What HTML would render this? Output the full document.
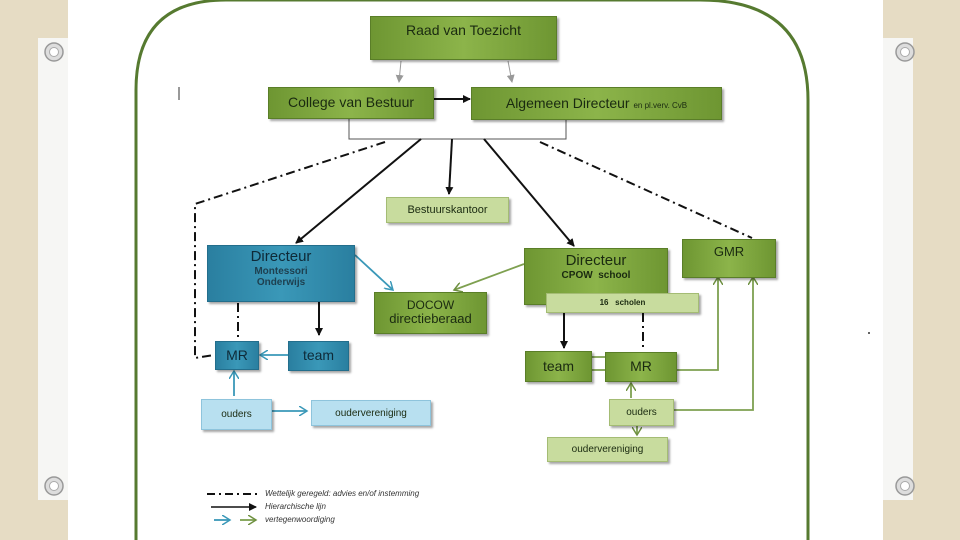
<!DOCTYPE html>
<html><head><meta charset="utf-8"><style>
body{margin:0;width:960px;height:540px;overflow:hidden;background:#e6dcc4;font-family:"Liberation Sans",sans-serif;position:relative}
.b{position:absolute;display:flex;align-items:center;justify-content:center;flex-direction:column;box-shadow:2px 2px 2px rgba(0,0,0,.35);color:#1a2a10;text-align:center;line-height:1.1}
.g{background:linear-gradient(90deg,#6e9632,#8cb44a 50%,#6e9632);border:1px solid #5a7e28}
.lg{background:#c8dc9e;border:1px solid #a4bc74}
.t{background:linear-gradient(90deg,#2a7fa0,#3a98b8 50%,#2a7fa0);border:1px solid #236e8c;color:#0e2a38}
.lb{background:#b8e0f0;border:1px solid #8ec4dc}
</style></head><body>
<div style="position:absolute;left:68px;top:0;width:815px;height:540px;background:#fff"></div>
<div style="position:absolute;left:38px;top:38px;width:30px;height:462px;background:#f6f6f4"></div>
<div style="position:absolute;left:883px;top:38px;width:30px;height:462px;background:#f6f6f4"></div>
<svg width="960" height="540" style="position:absolute;left:0;top:0">
<defs>
<marker id="k" markerWidth="8" markerHeight="8" refX="7" refY="4" orient="auto" markerUnits="userSpaceOnUse"><path d="M0,0L8,4L0,8z" fill="#111"/></marker>
<marker id="gr" markerWidth="8" markerHeight="8" refX="7" refY="4" orient="auto" markerUnits="userSpaceOnUse"><path d="M0,0L8,4L0,8z" fill="#999"/></marker>
<marker id="bl" markerWidth="10" markerHeight="10" refX="8" refY="5" orient="auto" markerUnits="userSpaceOnUse"><path d="M0,0L8,5L0,10" fill="none" stroke="#3a98b8" stroke-width="1.5"/></marker>
<marker id="gn" markerWidth="10" markerHeight="10" refX="8" refY="5" orient="auto" markerUnits="userSpaceOnUse"><path d="M0,0L8,5L0,10" fill="none" stroke="#6e9040" stroke-width="1.5"/></marker>
</defs>
<g fill="#ddd" stroke="#999" stroke-width="1.5"><circle cx="54" cy="52" r="9"/><circle cx="54" cy="486" r="9"/><circle cx="905" cy="52" r="9"/><circle cx="905" cy="486" r="9"/></g>
<g fill="#fff" stroke="#aaa"><circle cx="54" cy="52" r="4.5"/><circle cx="54" cy="486" r="4.5"/><circle cx="905" cy="52" r="4.5"/><circle cx="905" cy="486" r="4.5"/></g>
<path d="M136,560 V90 Q136,0 226,0 H700 Q808,0 808,100 V560" fill="none" stroke="#567a30" stroke-width="3"/>
<line x1="179" y1="87" x2="179" y2="100" stroke="#333"/>
<line x1="401" y1="61" x2="399" y2="82" stroke="#999" marker-end="url(#gr)"/>
<line x1="508" y1="61" x2="512" y2="82" stroke="#999" marker-end="url(#gr)"/>
<line x1="432" y1="99" x2="470" y2="99" stroke="#111" stroke-width="2" marker-end="url(#k)"/>
<path d="M349,118V139H566V118" fill="none" stroke="#555"/>
<g stroke="#111" stroke-width="2" fill="none">
<line x1="421" y1="139" x2="296" y2="243" marker-end="url(#k)"/>
<line x1="452" y1="139" x2="449" y2="194" marker-end="url(#k)"/>
<line x1="484" y1="139" x2="574" y2="246" marker-end="url(#k)"/>
<line x1="319" y1="302" x2="319" y2="335" marker-end="url(#k)"/>
<line x1="564" y1="312" x2="564" y2="348" marker-end="url(#k)"/>
</g>
<g stroke="#111" stroke-width="2" fill="none" stroke-dasharray="9,4,2,4">
<path d="M385,142L195,204V358L214,355"/>
<path d="M540,142L752,238"/>
<line x1="238" y1="303" x2="238" y2="340"/>
<line x1="643" y1="313" x2="643" y2="350"/>
</g>
<g stroke="#3a98b8" stroke-width="1.8" fill="none">
<line x1="355" y1="255" x2="393" y2="290" marker-end="url(#bl)"/>
<line x1="288" y1="355" x2="260" y2="355" marker-end="url(#bl)"/>
<line x1="234" y1="396" x2="234" y2="371" marker-end="url(#bl)"/>
<line x1="270" y1="411" x2="307" y2="411" marker-end="url(#bl)"/>
<line x1="214" y1="520" x2="230" y2="520" marker-end="url(#bl)"/>
</g>
<g stroke="#7ea050" stroke-width="1.8" fill="none">
<line x1="524" y1="264" x2="454" y2="290" marker-end="url(#gn)"/>
<line x1="590" y1="357" x2="616" y2="357" marker-end="url(#gn)"/>
<line x1="590" y1="370" x2="605" y2="370"/>
<path d="M675,370H718V277" marker-end="url(#gn)"/>
<path d="M672,410H753V277" marker-end="url(#gn)"/>
<line x1="631" y1="398" x2="631" y2="383" marker-end="url(#gn)"/>
<line x1="637" y1="424" x2="637" y2="435" marker-end="url(#gn)"/>
<line x1="240" y1="520" x2="256" y2="520" marker-end="url(#gn)"/>
</g>
<line x1="207" y1="494" x2="260" y2="494" stroke="#111" stroke-width="2" stroke-dasharray="8,4,2,4"/>
<line x1="211" y1="507" x2="256" y2="507" stroke="#111" stroke-width="1.5" marker-end="url(#k)"/>
<circle cx="869" cy="333" r="1" fill="#333"/>
</svg>
<div class="b g" style="left:370px;top:16px;width:187px;height:44px;justify-content:flex-start;padding-top:6px;box-sizing:border-box;font-size:14px">Raad van Toezicht</div>
<div class="b g" style="left:268px;top:87px;width:164px;height:30px;font-size:14px">College van Bestuur</div>
<div class="b g" style="left:471px;top:87px;width:249px;height:31px;font-size:14px;flex-direction:row;align-items:baseline;line-height:31px">Algemeen Directeur&nbsp;<span style="font-size:8px">en pl.verv. CvB</span></div>
<div class="b lg" style="left:386px;top:197px;width:121px;height:24px;font-size:11px">Bestuurskantoor</div>
<div class="b t" style="left:207px;top:245px;width:148px;height:57px;font-size:15px;justify-content:flex-start;padding-top:3px;box-sizing:border-box">Directeur<span style="font-size:10px;font-weight:bold;color:#1e4050">Montessori<br>Onderwijs</span></div>
<div class="b g" style="left:374px;top:292px;width:111px;height:40px;font-size:12px">DOCOW<span style="font-size:13px">directieberaad</span></div>
<div class="b g" style="left:524px;top:248px;width:144px;height:57px;font-size:15px;justify-content:flex-start;padding-top:4px;box-sizing:border-box">Directeur<span style="font-size:10px;font-weight:bold">CPOW&nbsp; school</span></div>
<div class="b lg" style="left:546px;top:293px;width:151px;height:18px;font-size:8px;font-weight:bold">16&nbsp;&nbsp; scholen</div>
<div class="b g" style="left:682px;top:239px;width:94px;height:39px;font-size:13px;justify-content:flex-start;padding-top:5px;box-sizing:border-box">GMR</div>
<div class="b t" style="left:215px;top:341px;width:42px;height:27px;font-size:14px">MR</div>
<div class="b t" style="left:288px;top:341px;width:59px;height:28px;font-size:14px">team</div>
<div class="b lb" style="left:201px;top:399px;width:69px;height:29px;font-size:10px">ouders</div>
<div class="b lb" style="left:311px;top:400px;width:118px;height:24px;font-size:10px">oudervereniging</div>
<div class="b g" style="left:525px;top:351px;width:65px;height:29px;font-size:14px">team</div>
<div class="b g" style="left:605px;top:352px;width:70px;height:28px;font-size:14px">MR</div>
<div class="b lg" style="left:609px;top:399px;width:63px;height:25px;font-size:10px">ouders</div>
<div class="b lg" style="left:547px;top:437px;width:119px;height:23px;font-size:10px">oudervereniging</div>
<div style="position:absolute;left:265px;top:487px;font-size:8px;font-style:italic;color:#333;line-height:13px">Wettelijk geregeld: advies en/of instemming<br>Hierarchische lijn<br>vertegenwoordiging</div>
</body></html>
